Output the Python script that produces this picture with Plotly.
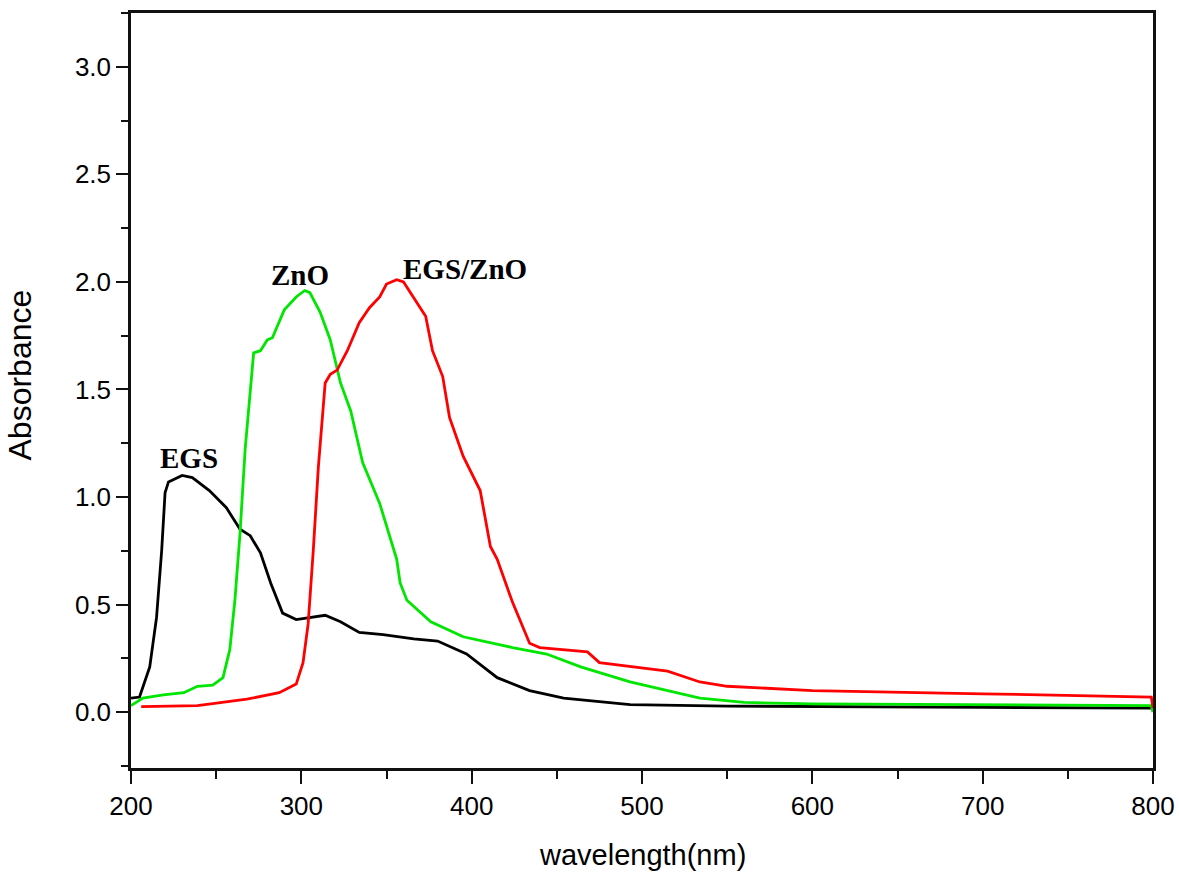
import plotly.graph_objects as go

# EGS (black)
egs_wl = [200, 205, 211, 215, 218, 220, 222, 230, 236, 246, 256, 264, 270, 276, 282, 289, 297, 305, 314,
          323, 334, 348, 366, 380, 397, 415, 434, 454, 493, 550, 600, 700, 800]
egs_abs = [0.065, 0.07, 0.21, 0.44, 0.75, 1.02, 1.07, 1.10, 1.09, 1.03, 0.95, 0.85, 0.82, 0.74, 0.60, 0.46, 0.43,
           0.44, 0.45, 0.42, 0.37, 0.36, 0.34, 0.33, 0.27, 0.16, 0.10, 0.065, 0.035, 0.028, 0.025, 0.022, 0.018]

# ZnO (green)
zno_wl = [200, 207, 219, 231, 239, 248, 254, 258, 261, 264, 267, 272, 276, 280, 283, 290, 297, 302, 305, 311,
          317, 323, 329, 336, 346, 354, 356, 358, 362, 376, 395, 424, 444, 464, 493, 534, 560, 600, 700, 799, 800]
zno_abs = [0.03, 0.065, 0.08, 0.09, 0.12, 0.125, 0.16, 0.29, 0.52, 0.83, 1.22, 1.67, 1.68, 1.73, 1.74, 1.87,
           1.93, 1.96, 1.95, 1.86, 1.73, 1.53, 1.40, 1.16, 0.97, 0.77, 0.71, 0.60, 0.52, 0.42, 0.35, 0.30, 0.27,
           0.21, 0.14, 0.065, 0.045, 0.038, 0.033, 0.03, 0.0]

# EGS/ZnO (red)
egszno_wl = [206, 239, 268, 287, 297, 301, 304, 307, 310, 314, 317, 321, 327, 334, 340, 346, 350, 356, 360,
             368, 373, 377, 383, 387, 395, 405, 411, 415, 424, 434, 440, 468, 475, 515, 534, 550, 600, 700, 799, 800]
egszno_abs = [0.025, 0.03, 0.06, 0.09, 0.13, 0.23, 0.41, 0.75, 1.14, 1.53, 1.57, 1.59, 1.68, 1.81, 1.88, 1.93,
              1.99, 2.01, 2.00, 1.90, 1.84, 1.68, 1.56, 1.37, 1.19, 1.03, 0.77, 0.71, 0.51, 0.32, 0.30, 0.28,
              0.23, 0.19, 0.14, 0.12, 0.10, 0.085, 0.07, 0.02]

labels = ["EGS", "ZnO", "EGS/ZnO"]
label_wl = [234, 299, 396]
label_abs = [1.18, 2.03, 2.06]

fig = go.Figure()
fig.add_trace(go.Scatter(x=egs_wl, y=egs_abs, mode="lines", line=dict(color="#000000", width=2.8), name="EGS"))
fig.add_trace(go.Scatter(x=zno_wl, y=zno_abs, mode="lines", line=dict(color="#00e600", width=2.8), name="ZnO"))
fig.add_trace(go.Scatter(x=egszno_wl, y=egszno_abs, mode="lines", line=dict(color="#ff0000", width=2.8), name="EGS/ZnO"))

for t, x, y in zip(labels, label_wl, label_abs):
    fig.add_annotation(x=x, y=y, text="<b>%s</b>" % t, showarrow=False,
                       font=dict(family="Liberation Serif, Times New Roman, serif", size=29, color="#000"))

fig.add_annotation(xref="paper", yref="paper", x=0.5, y=0, yshift=-87, yanchor="middle", text="wavelength(nm)",
                   showarrow=False, font=dict(family="Liberation Sans, Arial", size=29, color="#000"))
fig.add_annotation(xref="paper", yref="paper", x=0, y=0.5, xshift=-112, yshift=15, xanchor="center",
                   yanchor="middle", text="Absorbance", textangle=-90, showarrow=False,
                   font=dict(family="Liberation Sans, Arial", size=32, color="#000"))

axis_common = dict(showline=True, linecolor="#111", linewidth=2.5, mirror=True, ticks="outside",
                   tickwidth=2, tickcolor="#111", showgrid=False, zeroline=False, automargin=False,
                   ticklabeloverflow="allow",
                   tickfont=dict(family="Liberation Sans, Arial", size=26, color="#000"))

fig.update_xaxes(range=[200, 800], dtick=100, ticklen=13,
                 minor=dict(dtick=50, ticks="outside", ticklen=8, tickwidth=2, tickcolor="#111"), **axis_common)
fig.update_yaxes(range=[-0.26, 3.25], dtick=0.5, tickformat=".1f", ticklen=12,
                 minor=dict(dtick=0.25, ticks="outside", ticklen=7, tickwidth=2, tickcolor="#111"), **axis_common)

fig.update_layout(width=1179, height=875, margin=dict(l=131, r=26, t=13, b=107),
                  plot_bgcolor="white", paper_bgcolor="white", showlegend=False)

fig.write_html("out.html")
